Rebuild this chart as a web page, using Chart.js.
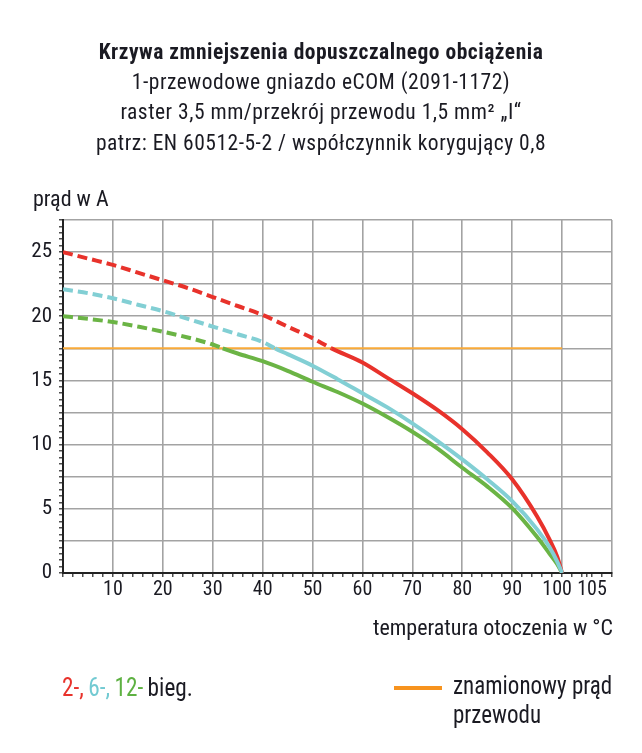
<!DOCTYPE html>
<html>
<head>
<meta charset="utf-8">
<script src="https://cdn.jsdelivr.net/npm/chart.js@4/dist/chart.umd.min.js"></script>
<style>
  html, body { margin: 0; padding: 0; background: #fff; }
  #wrap { position: relative; width: 642px; height: 753px; overflow: hidden;
          font-family: 'Roboto Condensed', 'DejaVu Sans Condensed', sans-serif; color: #1a1a22; }
  #c { position: absolute; left: 0; top: 0; }
  .t { position: absolute; white-space: nowrap; }
  #title { left: 0; width: 642px; top: 37px; text-align: center; font-size: 21.5px; line-height: 30.2px; letter-spacing: 0.5px; }
  #title b { font-weight: bold; }
  #ylab { left: 33px; top: 187px; font-size: 22px; line-height: 24px; }
  #xlab { right: 29px; top: 615.5px; font-size: 22px; line-height: 24px; }
  #leg1 { left: 62px; top: 674px; font-size: 25px; line-height: 28.5px; transform: scaleX(0.93); transform-origin: 0 0; word-spacing: -1px; }
  #legline { position: absolute; left: 394px; top: 686px; width: 48px; height: 4px; background: #F7931E; }
  #leg2 { left: 453px; top: 672px; font-size: 25px; line-height: 28.5px; transform: scaleX(0.92); transform-origin: 0 0; }
</style>
</head>
<body>
<div id="wrap">
  <canvas id="c" width="642" height="753"></canvas>
  <div class="t" id="title"><b>Krzywa zmniejszenia dopuszczalnego obciążenia</b><br>1-przewodowe gniazdo eCOM (2091-1172)<br>raster 3,5 mm/przekrój przewodu 1,5 mm² „I“<br>patrz: EN 60512-5-2 / współczynnik korygujący 0,8</div>
  <div class="t" id="ylab">prąd w A</div>
  <div class="t" id="xlab">temperatura otoczenia w °C</div>
  <div class="t" id="leg1"><span style="color:#E8322B">2-,</span> <span style="color:#72CAD2">6-,</span> <span style="color:#5EB142">12-</span> bieg.</div>
  <div id="legline"></div>
  <div class="t" id="leg2">znamionowy prąd<br>przewodu</div>
</div>
<script>
// ---- data ----
const xRed   = [0, 5, 10, 15, 20, 25, 30, 35, 40, 45, 50, 53.8, 60, 65, 70, 75, 80, 85, 90, 95, 97.5, 99, 100];
const yRed   = [25, 24.5, 24.0, 23.4, 22.8, 22.2, 21.5, 20.8, 20.1, 19.2, 18.3, 17.5, 16.4, 15.2, 14.0, 12.7, 11.2, 9.4, 7.3, 4.4, 2.6, 1.3, 0];
const redCross = 53.8;

const xCyan  = [0, 5, 10, 15, 20, 25, 30, 35, 40, 42.5, 45, 50, 55, 60, 65, 70, 75, 80, 85, 90, 95, 97.5, 99, 100];
const yCyan  = [22.1, 21.8, 21.4, 20.9, 20.4, 19.8, 19.2, 18.6, 18.0, 17.5, 17.05, 16.15, 15.1, 14.0, 12.9, 11.65, 10.3, 8.85, 7.3, 5.6, 3.4, 2.0, 0.9, 0];
const cyanCross = 42.5;

const xGreen = [0, 5, 10, 15, 20, 25, 30, 32, 35, 40, 45, 50, 55, 60, 65, 70, 75, 80, 85, 90, 95, 97.5, 99, 100];
const yGreen = [20.0, 19.8, 19.55, 19.2, 18.8, 18.35, 17.8, 17.5, 17.1, 16.5, 15.75, 14.9, 14.1, 13.2, 12.15, 11.0, 9.7, 8.2, 6.75, 5.05, 2.8, 1.5, 0.7, 0];
const greenCross = 32;

const xRated = [0, 100];
const yRated = [17.5, 17.5];

const xTickLabels = [10, 20, 30, 40, 50, 60, 70, 80, 90, 100, 105];
const yTickLabels = [0, 5, 10, 15, 20, 25];
const xMin = 0, xMax = 110, xMinorStep = 2, xGridStep = 10;
const yMin = 0, yMax = 27.5, yMinorStep = 0.5, yGridStep = 2.5;

// ---- helpers ----
const pts = (xs, ys) => xs.map((x, i) => ({ x: x, y: ys[i] }));
const dashBefore = (cross) => (ctx) => (ctx.p0.parsed.x < cross - 1e-9 ? [10, 5] : undefined);
const isMultiple = (v, step) => Math.abs(v / step - Math.round(v / step)) < 1e-6;
const FIG = '\u2007';
// the two crowded labels at the right end sit slightly apart, as in the original
const xLabelText = (v) => (v === 100 ? String(v) + FIG : v === 105 ? FIG + String(v) : String(v));
const GRID = '#a3a3a3';
const AXIS = '#222222';
const FONT = "'Roboto Condensed', 'DejaVu Sans Condensed', sans-serif";

function curve(label, xs, ys, color, cross, order) {
  return {
    label: label, data: pts(xs, ys), borderColor: color, borderWidth: 4,
    pointRadius: 0, fill: false, cubicInterpolationMode: 'monotone',
    borderCapStyle: 'butt', order: order,
    segment: { borderDash: dashBefore(cross) }
  };
}

new Chart(document.getElementById('c'), {
  type: 'line',
  data: {
    datasets: [
      curve('6-bieg.', xCyan, yCyan, '#82CFD4', cyanCross, 0),
      curve('2-bieg.', xRed, yRed, '#E8322B', redCross, 1),
      curve('12-bieg.', xGreen, yGreen, '#6BB445', greenCross, 2),
      { label: 'znamionowy prąd przewodu', data: pts(xRated, yRated), borderColor: '#F8AA3A',
        borderWidth: 2, pointRadius: 0, fill: false, order: 3 }
    ]
  },
  options: {
    responsive: false, animation: false, devicePixelRatio: 1,
    layout: { padding: { left: 0, top: 220, right: 30, bottom: 0 } },
    plugins: { legend: { display: false }, tooltip: { enabled: false }, title: { display: false } },
    scales: {
      x: {
        type: 'linear', min: xMin, max: xMax,
        afterBuildTicks: (s) => {
          const vals = [];
          for (let v = xMin; v <= xMax + 1e-9; v += xMinorStep) vals.push(v);
          xTickLabels.forEach(v => { if (!vals.includes(v)) vals.push(v); });
          vals.sort((a, b) => a - b);
          s.ticks = vals.map(v => ({ value: v }));
        },
        afterFit: (s) => { s.height = 180; },
        ticks: {
          autoSkip: false, maxRotation: 0, minRotation: 0, padding: 1,
          color: '#1a1a22', font: { family: FONT, size: 20 },
          callback: (v) => (xTickLabels.includes(v) ? xLabelText(v) : '')
        },
        grid: {
          color: (c) => (c.tick && c.tick.value > 0 && isMultiple(c.tick.value, xGridStep) ? GRID : 'rgba(0,0,0,0)'),
          lineWidth: 1.6, tickColor: AXIS, tickLength: 4, tickWidth: 1.2, drawTicks: true
        },
        border: { color: AXIS, width: 2 }
      },
      y: {
        type: 'linear', min: yMin, max: yMax,
        afterBuildTicks: (s) => {
          const vals = [];
          for (let v = yMin; v <= yMax + 1e-9; v += yMinorStep) vals.push(Math.round(v * 10) / 10);
          s.ticks = vals.map(v => ({ value: v }));
        },
        afterFit: (s) => { s.width = 63; },
        ticks: {
          autoSkip: false, padding: 7,
          color: '#1a1a22', font: { family: FONT, size: 21 },
          callback: (v) => (yTickLabels.includes(v) ? String(v) : '')
        },
        grid: {
          color: (c) => (c.tick && c.tick.value > 0 && isMultiple(c.tick.value, yGridStep) ? GRID : 'rgba(0,0,0,0)'),
          lineWidth: 1.6, tickColor: AXIS, tickLength: 4, tickWidth: 1.2, drawTicks: true
        },
        border: { color: AXIS, width: 2 }
      }
    }
  }
});
</script>
</body>
</html>
